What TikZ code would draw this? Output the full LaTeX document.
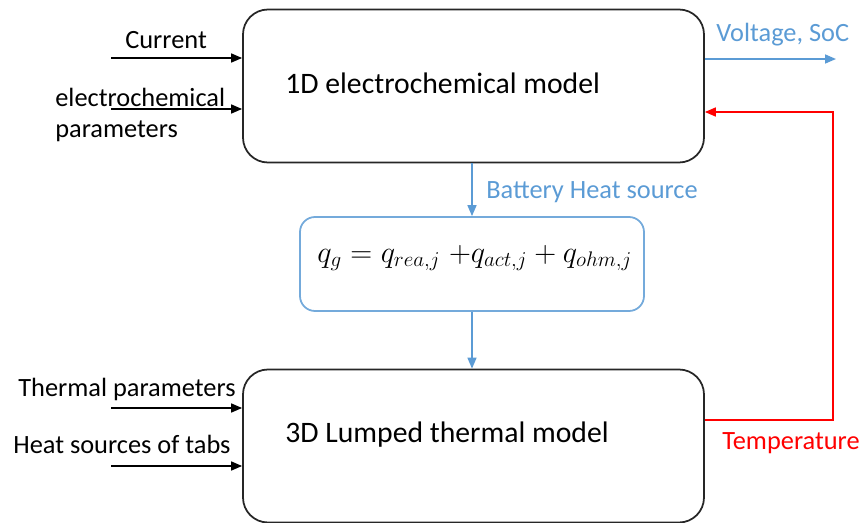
\documentclass[tikz,border=0pt]{standalone}
\usepackage{fontspec}
\setmainfont{Carlito}
\usetikzlibrary{arrows.meta}
\definecolor{heatblue}{RGB}{91,155,213}
\definecolor{tempred}{RGB}{255,0,0}

\begin{document}
\begin{tikzpicture}[x=0.2mm, y=-0.2mm,
  model/.style={draw=black!85, line width=1pt, rounded corners=5mm, minimum width=92.2mm, minimum height=30.6mm, inner sep=0pt},
  eqbox/.style={draw=heatblue!85, line width=1pt, rounded corners=3mm, minimum width=68.8mm, minimum height=18.8mm, inner sep=0pt},
  lbl/.style={font=\fontsize{15}{17}\selectfont, inner sep=0pt, anchor=base west},
  title/.style={font=\fontsize{16.9}{20}\selectfont, inner sep=0pt, anchor=base west},
  feed/.style={draw=black, line width=0.9pt, -{Triangle[length=2.2mm, width=1.8mm]}},
  flow/.style={draw=heatblue, line width=0.9pt, -{Triangle[length=2.2mm, width=1.8mm]}},
  back/.style={draw=tempred, line width=0.9pt, -{Triangle[length=2.2mm, width=1.8mm]}},
]
  \useasboundingbox (0,0) rectangle (862,523);

  % model boxes
  \node[model] (ecm) at (473.5,86) {};
  \node[model] (ltm) at (473.5,446) {};
  \node[eqbox] (heat) at (472,264) {};

  \node[title] (ecmtxt) at (285,93) {1D electrochemical model};
  \node[title] (ltmtxt) at (285,442) {3D Lumped thermal model};
  \node[font=\fontsize{17.3}{20}\selectfont, inner sep=0pt, anchor=base west] (qg) at (317,262)
    {$q_g = q_{rea,j}\;{+}q_{act,j} + q_{ohm,j}$};

  % inputs
  \coordinate (cur) at (111,58);
  \coordinate (par) at (111,109);
  \coordinate (thp) at (111,408);
  \coordinate (tab) at (111,466);
  \node[lbl] (curtxt) at (125,48) {Current};
  \node[lbl] (partxt) at (55,106) {electrochemical};
  \node[lbl] (partxt2) at (55,137) {parameters};
  \node[lbl] (thptxt) at (18,396) {Thermal parameters};
  \node[lbl] (tabtxt) at (13,453) {Heat sources of tabs};
  \draw[feed] (cur) -- (cur -| ecm.west);
  \draw[feed] (par) -- (par -| ecm.west);
  \draw[feed] (thp) -- (thp -| ltm.west);
  \draw[feed] (tab) -- (tab -| ltm.west);

  % outputs
  \coordinate (vout) at (836,59);
  \node[lbl, text=heatblue] (vtxt) at (716,41) {Voltage, SoC};
  \draw[flow] (vout -| ecm.east) -- (vout);

  \node[lbl, text=heatblue] (qtxt) at (486,198) {Battery Heat source};
  \draw[flow] (ecm.south -| heat.north) -- (heat.north);
  \draw[flow] (heat.south) -- (ltm.north -| heat.south);

  % temperature feedback
  \coordinate (tlow) at (833,420);
  \coordinate (thigh) at (833,112);
  \node[lbl, text=tempred] (ttxt) at (722,449) {Temperature};
  \draw[back] (tlow -| ltm.east) -- (tlow) -- (thigh) -- (thigh -| ecm.east);
\end{tikzpicture}
\end{document}
